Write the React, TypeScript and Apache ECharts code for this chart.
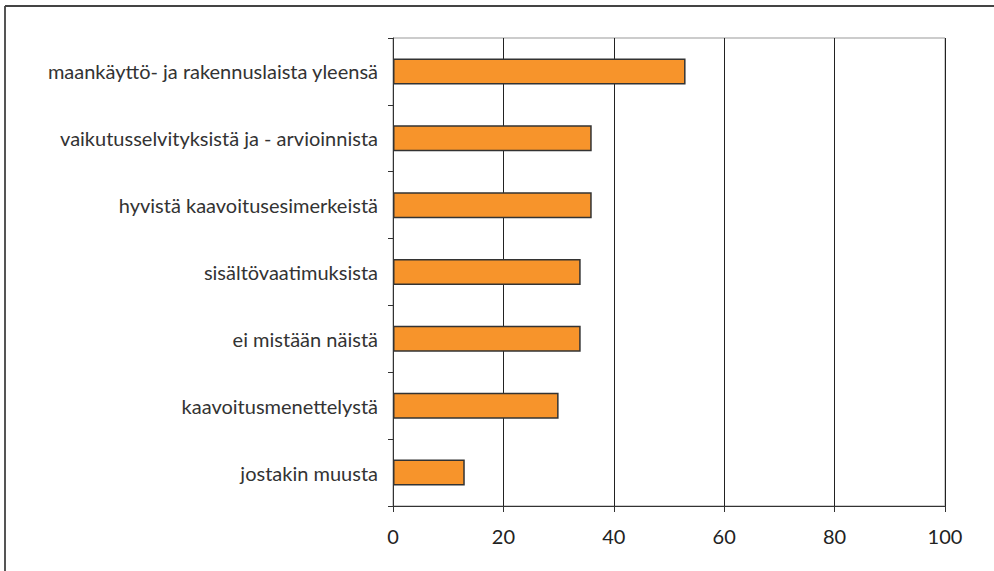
import React, { useEffect, useRef } from "react";
import * as echarts from "echarts";

const categories = [
  "jostakin muusta",
  "kaavoitusmenettelystä",
  "ei mistään näistä",
  "sisältövaatimuksista",
  "hyvistä kaavoitusesimerkeistä",
  "vaikutusselvityksistä ja - arvioinnista",
  "maankäyttö- ja rakennuslaista yleensä",
];
const values = [13, 30, 34, 34, 36, 36, 53];
const xTicks = [0, 20, 40, 60, 80, 100];

export default function App() {
  const ref = useRef<HTMLDivElement>(null);
  useEffect(() => {
    if (!ref.current) return;
    const chart = echarts.init(ref.current, null, { renderer: "svg" });
    const font = "Lato, 'Open Sans', sans-serif";
    chart.setOption({
      animation: false,
      grid: {
        left: 393,
        right: 49,
        top: 38,
        bottom: 65,
        show: true,
        borderColor: "#999",
        borderWidth: 1,
        backgroundColor: "transparent",
      },
      graphic: [
        { type: "line", shape: { x1: 5, y1: 6, x2: 5, y2: 571 }, style: { stroke: "#555", lineWidth: 2 } },
        { type: "line", shape: { x1: 5, y1: 6, x2: 994, y2: 6 }, style: { stroke: "#444", lineWidth: 2 } },
      ],
      xAxis: {
        type: "value",
        min: xTicks[0],
        max: xTicks[xTicks.length - 1],
        interval: 20,
        axisLine: { show: true, lineStyle: { color: "#333", width: 1 } },
        axisTick: { show: true, length: 6, lineStyle: { color: "#333" } },
        splitLine: { show: true, lineStyle: { color: "#222", width: 1 } },
        axisLabel: { color: "#222", fontSize: 20, fontFamily: font, margin: 20 },
      },
      yAxis: {
        type: "category",
        data: categories,
        axisLine: { show: true, lineStyle: { color: "#333", width: 1 } },
        axisTick: { show: true, length: 5, inside: false, lineStyle: { color: "#333" } },
        axisLabel: { color: "#333", fontSize: 20, fontFamily: font, margin: 15 },
      },
      series: [
        {
          type: "bar",
          data: values,
          barWidth: 26,
          itemStyle: { color: "#F7942B", borderColor: "#333", borderWidth: 1.5 },
        },
      ],
    });
    return () => chart.dispose();
  }, []);
  return <div ref={ref} style={{ width: 994, height: 571, position: "absolute", left: 0, top: 0 }} />;
}
